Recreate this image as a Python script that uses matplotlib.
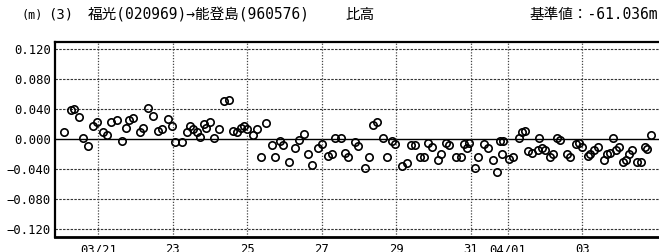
import matplotlib
matplotlib.use("Agg")
import matplotlib.pyplot as plt

# time in days of March (April 1 = 32), height in mm relative to reference value
days = [20.09, 20.28, 20.36, 20.49, 20.60, 20.73, 20.87, 20.97, 21.13, 21.24,
        21.35, 21.51, 21.64, 21.75, 21.83, 21.94, 22.13, 22.21, 22.34, 22.47,
        22.61, 22.72, 22.88, 22.98, 23.06, 23.25, 23.39, 23.47, 23.55, 23.65,
        23.73, 23.84, 23.90, 24.00, 24.11, 24.24, 24.38, 24.51, 24.62, 24.73,
        24.83, 24.91, 24.99, 25.16, 25.26, 25.37, 25.50, 25.66, 25.75, 25.88,
        25.96, 26.12, 26.28, 26.39, 26.52, 26.63, 26.74, 26.90, 27.01, 27.17,
        27.27, 27.35, 27.51, 27.62, 27.70, 27.89, 27.97, 28.16, 28.27, 28.37,
        28.48, 28.64, 28.75, 28.88, 28.96, 29.15, 29.28, 29.39, 29.50, 29.63,
        29.74, 29.85, 29.95, 30.12, 30.20, 30.33, 30.41, 30.62, 30.73, 30.81,
        30.89, 30.97, 31.11, 31.19, 31.35, 31.46, 31.59, 31.72, 31.78, 31.83,
        31.88, 32.02, 32.13, 32.31, 32.39, 32.47, 32.55, 32.66, 32.80, 32.85,
        32.93, 33.01, 33.12, 33.20, 33.31, 33.41, 33.60, 33.68, 33.82, 33.92,
        33.98, 34.14, 34.22, 34.32, 34.43, 34.57, 34.67, 34.75, 34.83, 34.91,
        34.99, 35.08, 35.18, 35.26, 35.34, 35.48, 35.58, 35.69, 35.75, 35.85]
height_mm = [9, 39, 40, 30, 1, -9, 17, 23, 9, 5,
             23, 26, -2, 15, 26, 28, 9, 15, 42, 31,
             11, 14, 27, 18, -3, -3, 9, 18, 13, 10,
             3, 20, 15, 23, 1, 13, 51, 52, 11, 10,
             15, 18, 13, 6, 14, -23, 22, -7, -23, -2,
             -7, -30, -11, -1, 7, -19, -34, -11, -6, -22,
             -19, 1, 1, -18, -23, -3, -9, -38, -23, 19,
             23, 1, -23, -2, -6, -35, -32, -7, -7, -24,
             -24, -5, -10, -28, -20, -5, -7, -24, -23, -6,
             -11, -5, -38, -23, -6, -11, -28, -43, -2, -20,
             -2, -26, -24, 2, 9, 11, -16, -18, -14, 2,
             -11, -14, -24, -20, 2, -1, -20, -24, -6, -5,
             -10, -22, -20, -14, -10, -27, -20, -18, 2, -14,
             -10, -30, -27, -20, -14, -30, -30, -10, -13, 6]

tick_days = [21, 23, 25, 27, 29, 31, 32, 34]
tick_labels = ["03/21", "23", "25", "27", "29", "31", "04/01", "03"]
ytick_vals = [0.120, 0.080, 0.040, 0.000, -0.040, -0.080, -0.120]
ytick_labels = ["0.120", "0.080", "0.040", "0.000", "\u22120.040", "\u22120.080", "\u22120.120"]

title_left = ["(m)", "(3)", "福光(020969)→能登島(960576)", "比高"]
title_right = "基準値：-61.036m"

mono_cjk = ["DejaVu Sans Mono", "Noto Sans CJK JP"]

fig = plt.figure(figsize=(6.59, 2.52), dpi=100)
ax = fig.add_axes([55 / 659, 15 / 252, 1 - 55 / 659, 195.5 / 252])

heights_m = [h / 1000.0 for h in height_mm]

# grid
for v in ytick_vals:
    if v == 0:
        ax.axhline(v, color="black", lw=1.0, zorder=1)
    else:
        ax.axhline(v, color="#333333", lw=0.8, ls=(0, (2.2, 1.2)), zorder=1)
for d in tick_days:
    ax.axvline(d, color="#444444", lw=0.9, ls=(0, (1, 1.3)), zorder=1)

ax.plot(days, heights_m, ls="none", marker="o", ms=5.3, mfc="none",
        mec="black", mew=1.2, zorder=3)

ax.set_xlim(19.837, 36.06)
ax.set_ylim(-0.130, 0.130)
ax.set_xticks(tick_days)
ax.set_xticklabels(tick_labels, family=mono_cjk, fontsize=8.8)
ax.set_yticks(ytick_vals)
ax.set_yticklabels(ytick_labels, family=mono_cjk, fontsize=8.8)
ax.tick_params(axis="both", length=0)
ax.tick_params(axis="x", pad=4.5)
ax.tick_params(axis="y", pad=3)

ax.spines["right"].set_visible(False)
ax.spines["left"].set_linewidth(1.6)
ax.spines["top"].set_linewidth(1.6)
ax.spines["bottom"].set_linewidth(2.0)

ty = 1 - 15 / 252
fig.text(22 / 659, ty, title_left[0], family=mono_cjk, fontsize=8.5, va="center", ha="left")
fig.text(48 / 659, ty, title_left[1], family=mono_cjk, fontsize=10, va="center", ha="left")
fig.text(88 / 659, ty, title_left[2], family=mono_cjk, fontsize=10.5, va="center", ha="left")
fig.text(345 / 659, ty, title_left[3], family=mono_cjk, fontsize=10.5, va="center", ha="left")
fig.text(658 / 659, ty, title_right, family=mono_cjk, fontsize=10.5, va="center", ha="right")

fig.savefig("out.png", dpi=100)
